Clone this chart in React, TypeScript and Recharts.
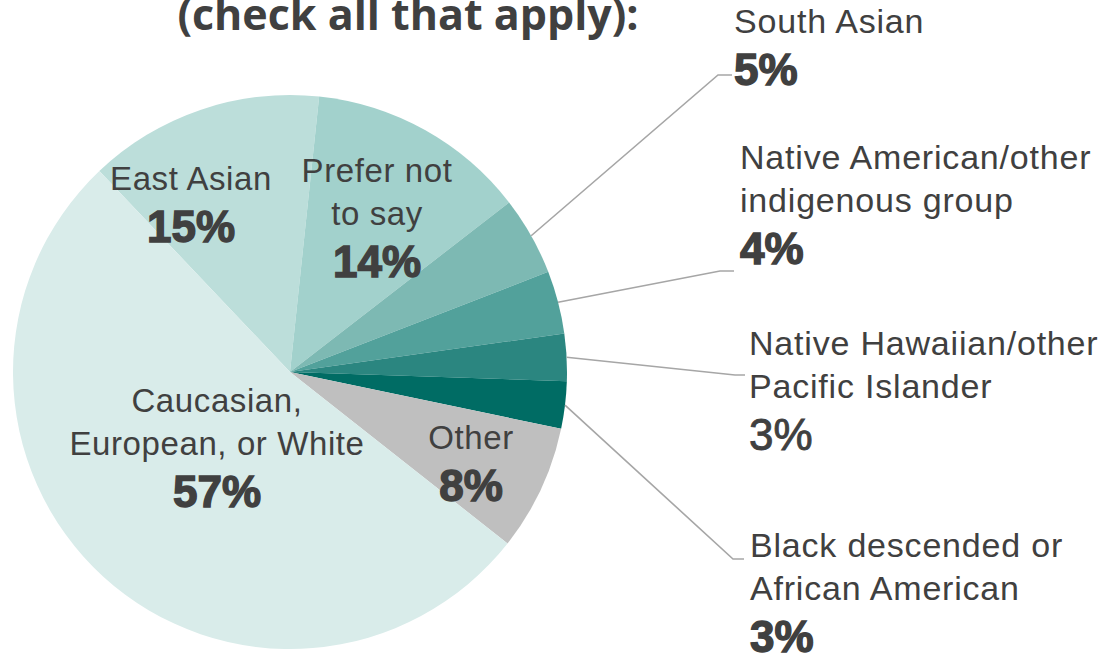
import React from "react";
import { PieChart, Pie, Cell } from "recharts";

const TITLE = "(check all that apply):";

// clockwise from the Caucasian/East Asian boundary
const NAMES = [
  "East Asian",
  "Prefer not to say",
  "South Asian",
  "Native American/other indigenous group",
  "Native Hawaiian/other Pacific Islander",
  "Black descended or African American",
  "Other",
  "Caucasian, European, or White",
];
const VALUES = [15, 14, 5, 4, 3, 3, 8, 57];
const COLORS = [
  "#bcdeda",
  "#a2d1cc",
  "#7db9b3",
  "#52a19b",
  "#2b8680",
  "#006c64",
  "#bfbfbf",
  "#d9ecea",
];

// how each name is broken into lines
const LABEL_LINES: Record<string, string[]> = {
  "East Asian": ["East Asian"],
  "Prefer not to say": ["Prefer not", "to say"],
  "South Asian": ["South Asian"],
  "Native American/other indigenous group": ["Native American/other", "indigenous group"],
  "Native Hawaiian/other Pacific Islander": ["Native Hawaiian/other", "Pacific Islander"],
  "Black descended or African American": ["Black descended or", "African American"],
  Other: ["Other"],
  "Caucasian, European, or White": ["Caucasian,", "European, or White"],
};

const data = NAMES.map((name, i) => ({ name, value: VALUES[i] }));

const TEXT = "#404040";
const FONT = "'Liberation Sans', Arial, sans-serif";
const LINE_H = 43;
const PCT_GAP = 52;

// label placement, relative to the pie centre
type Place = {
  x: number;
  y: number;
  anchor: "middle" | "start";
  elbow?: [number, number];
  end?: number;
  pctWeight?: string;
};
const PLACES: Record<string, Place> = {
  "East Asian": { x: -99, y: -182, anchor: "middle" },
  "Prefer not to say": { x: 87, y: -190, anchor: "middle" },
  "South Asian": { x: 444, y: -339, anchor: "start", elbow: [428, -297], end: 442 },
  "Native American/other indigenous group": { x: 450, y: -203, anchor: "start", elbow: [430, -101], end: 444 },
  "Native Hawaiian/other Pacific Islander": { x: 459, y: -17, anchor: "start", elbow: [445, 3], end: 455, pctWeight: "normal" },
  "Black descended or African American": { x: 460, y: 185, anchor: "start", elbow: [443, 187], end: 454 },
  Other: { x: 181, y: 77, anchor: "middle" },
  "Caucasian, European, or White": { x: -73, y: 40, anchor: "middle" },
};

const RAD = Math.PI / 180;

const renderLabel = (props: any) => {
  const { cx, cy, midAngle, outerRadius, name, value } = props;
  const p = PLACES[name];
  const lines = LABEL_LINES[name];
  if (!p) return null;
  const tx = cx + p.x;
  const ty = cy + p.y;
  let leader = null;
  if (p.elbow) {
    const sx = cx + outerRadius * Math.cos(-midAngle * RAD);
    const sy = cy + outerRadius * Math.sin(-midAngle * RAD);
    const ex = cx + p.elbow[0];
    const ey = cy + p.elbow[1];
    leader = (
      <polyline
        points={`${sx},${sy} ${ex},${ey} ${cx + (p.end ?? p.elbow[0])},${ey}`}
        fill="none"
        stroke="#a6a6a6"
        strokeWidth={1.6}
      />
    );
  }
  const pctY = ty + (lines.length - 1) * LINE_H + PCT_GAP;
  const light = p.pctWeight === "normal";
  const outside = p.anchor === "start";
  return (
    <g>
      {leader}
      {lines.map((l, i) => (
        <text
          key={i}
          x={tx}
          y={ty + i * LINE_H}
          textAnchor={p.anchor}
          fill={TEXT}
          fontFamily={FONT}
          fontSize={outside ? 34 : 33}
          letterSpacing={outside ? 0.8 : 0.6}
        >
          {l}
        </text>
      ))}
      <text
        x={tx}
        y={pctY}
        textAnchor={p.anchor}
        fill={TEXT}
        stroke={TEXT}
        strokeWidth={light ? 0.9 : 1.4}
        fontFamily={FONT}
        fontWeight={light ? "normal" : "bold"}
        fontSize={44}
      >
        {value}%
      </text>
    </g>
  );
};

export default function App() {
  return (
    <div style={{ position: "absolute", left: 0, top: 0, width: 1119, height: 655, background: "#fff", overflow: "hidden" }}>
      <div
        style={{
          position: "absolute",
          left: 0,
          width: 816,
          top: -16,
          textAlign: "center",
          fontFamily: "'Open Sans', sans-serif",
          fontWeight: 700,
          fontSize: 43,
          lineHeight: "60px",
          color: TEXT,
        }}
      >
        {TITLE}
      </div>
      <PieChart
        width={1119}
        height={655}
        margin={{ top: 0, right: 0, bottom: 0, left: 0 }}
        style={{ position: "absolute", left: 0, top: 0 }}
      >
        <Pie
          data={data}
          dataKey="value"
          nameKey="name"
          cx={290}
          cy={372}
          outerRadius={277}
          startAngle={133.5}
          endAngle={-226.5}
          stroke="none"
          label={renderLabel}
          labelLine={false}
          isAnimationActive={false}
        >
          {data.map((d, i) => (
            <Cell key={d.name} fill={COLORS[i]} />
          ))}
        </Pie>
      </PieChart>
    </div>
  );
}
